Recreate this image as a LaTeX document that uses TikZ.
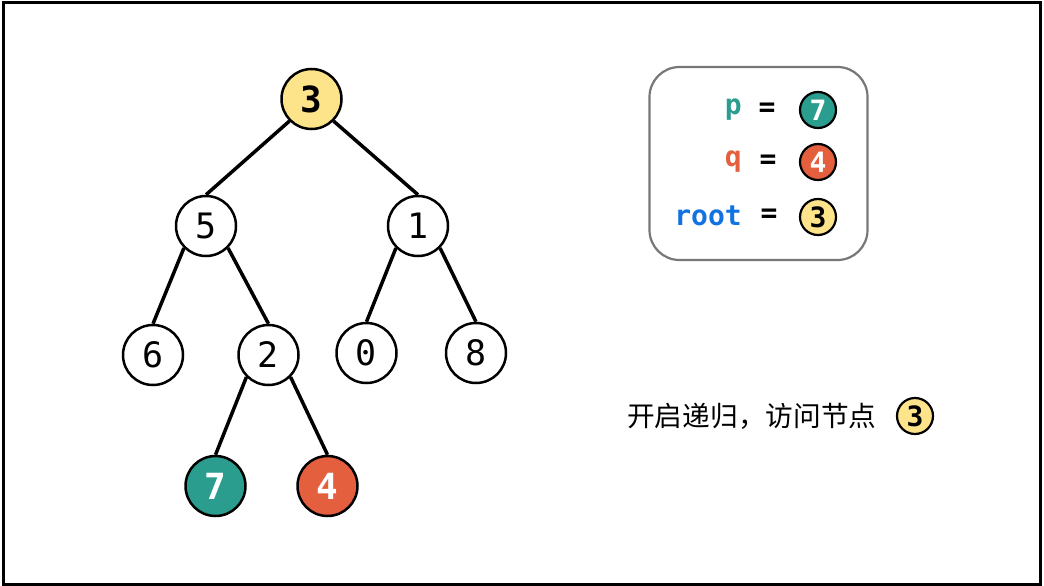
\documentclass[tikz,border=0pt]{standalone}
\usepackage{fontspec}
\setmonofont{DejaVu Sans Mono}
\newfontfamily\cjk{Noto Sans CJK SC}
\definecolor{teal7}{HTML}{2A9D8F}
\definecolor{red4}{HTML}{E45F3E}
\definecolor{yel3}{HTML}{FDE38A}
\definecolor{blueroot}{HTML}{1272E2}
\definecolor{boxgray}{HTML}{777777}
\tikzset{
  tnode/.style={circle, draw=black, line width=2.5pt, minimum size=60pt, inner sep=0pt, fill=white,
    font=\fontsize{35}{35}\selectfont\ttfamily},
  hnode/.style={tnode, font=\fontsize{36}{36}\selectfont\ttfamily\bfseries},
  snode/.style={circle, draw=black, line width=2.2pt, minimum size=36pt, inner sep=0pt,
    font=\fontsize{28}{28}\selectfont\ttfamily\bfseries},
  edge/.style={line width=3.5pt, black},
  ltext/.style={font=\fontsize{28}{28}\selectfont\ttfamily\bfseries, inner sep=0pt},
}
\begin{document}
\begin{tikzpicture}[x=1pt,y=-1pt]
\useasboundingbox (0,0) rectangle (1044,586);
\fill[white] (0,0) rectangle (1044,586);
\draw[line width=3pt] (3.5,2.5) rectangle (1040.5,584.5);
% tree nodes
\node[hnode, fill=yel3] (n3) at (311.5,99) {3};
\node[tnode] (n5) at (206,226) {5};
\node[tnode] (n1) at (418,226) {1};
\node[tnode] (n6) at (153,355) {6};
\node[tnode] (n2) at (268.5,355) {2};
\node[tnode] (n0) at (366.5,353) {0};
\node[tnode] (n8) at (476,353) {8};
\node[hnode, fill=teal7, text=white] (n7) at (215.5,486) {7};
\node[hnode, fill=red4, text=white] (n4) at (327.5,486) {4};
% edges
\draw[edge] (n3.south west) -- (n5.north);
\draw[edge] (n3.south east) -- (n1.north);
\draw[edge] (n5.south west) -- (n6.north);
\draw[edge] (n5.south east) -- (n2.north);
\draw[edge] (n1.south west) -- (n0.north);
\draw[edge] (n1.south east) -- (n8.north);
\draw[edge] (n2.south west) -- (n7.north);
\draw[edge] (n2.south east) -- (n4.north);
% legend box
\node[draw=boxgray, line width=2.2pt, rounded corners=30pt, minimum width=218pt, minimum height=193pt, inner sep=0pt] (box) at (758.5,163.5) {};
\node[ltext, text=teal7, anchor=east] (lp) at (742,110) {p};
\node[ltext, anchor=center] (e1) at (767,110) {=};
\node[snode, fill=teal7, text=white] (c7) at (818,110) {7};
\node[ltext, text=red4, anchor=east] (lq) at (742,162) {q};
\node[ltext, anchor=center] (e2) at (768,162) {=};
\node[snode, fill=red4, text=white] (c4) at (818,162) {4};
\node[ltext, text=blueroot, anchor=east] (lr) at (742,216) {root};
\node[ltext, anchor=center] (e3) at (769,216) {=};
\node[snode, fill=yel3] (c3) at (818,217) {3};
% caption
\node[font=\fontsize{27.7}{27.7}\selectfont\cjk, anchor=west, inner sep=0pt] (cap) at (627,416) {开启递归，访问节点};
\node[snode, fill=yel3] (c3b) at (915,416) {3};
\end{tikzpicture}
\end{document}
